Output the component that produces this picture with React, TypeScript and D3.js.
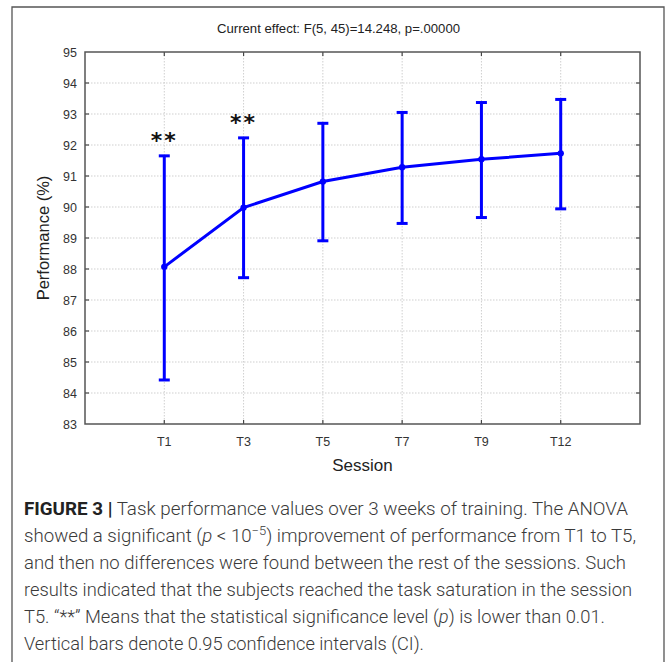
import React from "react";
import * as d3 from "d3";

const sessions = ["T1", "T3", "T5", "T7", "T9", "T12"];
const means = [88.07, 89.98, 90.82, 91.28, 91.54, 91.73];
const upper = [91.65, 92.23, 92.7, 93.05, 93.37, 93.47];
const lower = [84.42, 87.72, 88.91, 89.47, 89.66, 89.94];
const significant = [true, true, false, false, false, false];
const yTicks = [83, 84, 85, 86, 87, 88, 89, 90, 91, 92, 93, 94, 95];
const titleText = "Current effect: F(5, 45)=14.248, p=.00000";

const W = 667;
const H = 662;
const L = 85, R = 640, T = 52, B = 424;

export default function App() {
  const x = d3.scaleLinear().domain([0, sessions.length + 1]).range([L, R]);
  const y = d3.scaleLinear().domain([83, 95]).range([B, T]);
  const line = d3
    .line<number>()
    .x((_, i) => x(i + 1))
    .y((d) => y(d));
  const font = "'Liberation Sans', Arial, sans-serif";
  const capFont = "Roboto, 'Open Sans', sans-serif";
  const capColor = "#3a3a3a";
  const capX = 24;
  const capSize = 18;
  const capY0 = 515;
  const capDy = 27;
  return (
    <svg width={W} height={H} style={{ position: "absolute", left: 0, top: 0, background: "#fff" }}>
      <rect x={0} y={0} width={W} height={H} fill="#fff" />
      {/* outer border */}
      <path d={`M12,${H + 2} V7 H664 V${H + 2}`} fill="none" stroke="#555" strokeWidth={1.3} />
      {/* title */}
      <text x={(L + R) / 2 - 24} y={33} textAnchor="middle" fontFamily={font} fontSize={13} fill="#222"
        textLength={243} lengthAdjust="spacingAndGlyphs">
        {titleText}
      </text>
      {/* grid */}
      {yTicks.slice(1, -1).map((t) => (
        <line key={"gy" + t} x1={L} x2={R} y1={y(t)} y2={y(t)} stroke="#cfcfcf" strokeWidth={1} strokeDasharray="1.5,1.5" />
      ))}
      {sessions.map((s, i) => (
        <line key={"gx" + s} x1={x(i + 1)} x2={x(i + 1)} y1={T} y2={B} stroke="#cfcfcf" strokeWidth={1} strokeDasharray="1.5,1.5" />
      ))}
      {/* ticks inward */}
      {yTicks.slice(1, -1).map((t) => (
        <g key={"ty" + t}>
          <line x1={L} x2={L + 4} y1={y(t)} y2={y(t)} stroke="#444" strokeWidth={1.2} />
          <line x1={R} x2={R - 4} y1={y(t)} y2={y(t)} stroke="#444" strokeWidth={1.2} />
        </g>
      ))}
      {sessions.map((s, i) => (
        <g key={"tx" + s}>
          <line x1={x(i + 1)} x2={x(i + 1)} y1={B} y2={B - 4} stroke="#444" strokeWidth={1.2} />
          <line x1={x(i + 1)} x2={x(i + 1)} y1={T} y2={T + 4} stroke="#444" strokeWidth={1.2} />
        </g>
      ))}
      {/* frame */}
      <rect x={L} y={T} width={R - L} height={B - T} fill="none" stroke="#555" strokeWidth={1.5} />
      {/* y labels */}
      {yTicks.map((t) => (
        <text key={"yl" + t} x={L - 8} y={y(t) + 4.5} textAnchor="end" fontFamily={font} fontSize={12.5} fill="#333">
          {t}
        </text>
      ))}
      {/* x labels */}
      {sessions.map((s, i) => (
        <text key={"xl" + s} x={x(i + 1)} y={446} textAnchor="middle" fontFamily={font} fontSize={12.5} fill="#333">
          {s}
        </text>
      ))}
      {/* axis titles */}
      <text x={(L + R) / 2} y={471} textAnchor="middle" fontFamily={font} fontSize={17} fill="#222">
        Session
      </text>
      <text transform={`translate(49,${(T + B) / 2}) rotate(-90)`} textAnchor="middle" fontFamily={font} fontSize={16.5} fill="#222">
        Performance (%)
      </text>
      {/* error bars */}
      {sessions.map((s, i) => (
        <g key={"eb" + s} stroke="#0000ff" strokeWidth={3}>
          <line x1={x(i + 1)} x2={x(i + 1)} y1={y(upper[i])} y2={y(lower[i])} />
          <line x1={x(i + 1) - 5.5} x2={x(i + 1) + 5.5} y1={y(upper[i])} y2={y(upper[i])} />
          <line x1={x(i + 1) - 5.5} x2={x(i + 1) + 5.5} y1={y(lower[i])} y2={y(lower[i])} />
        </g>
      ))}
      <path d={line(means) || ""} fill="none" stroke="#0000ff" strokeWidth={3} />
      {means.map((m, i) => (
        <circle key={"pt" + i} cx={x(i + 1)} cy={y(m)} r={3.2} fill="#0000ff" />
      ))}
      {/* significance */}
      {sessions.map((s, i) =>
        significant[i] ? (
          <text key={"sg" + s} x={x(i + 1)} y={y(upper[i]) - 8} textAnchor="middle" fontFamily="'DejaVu Sans', sans-serif"
            fontWeight="bold" fontSize={22} fill="#111" letterSpacing={2}>
            **
          </text>
        ) : null
      )}
      {/* caption */}
      <g fontFamily={capFont} fontSize={capSize} fill={capColor} fontWeight={300}>
        <text x={capX} y={capY0} textLength={604} lengthAdjust="spacingAndGlyphs">
          <tspan fontWeight={700} fill="#222">FIGURE 3 |</tspan> Task performance values over 3 weeks of training. The ANOVA
        </text>
        <text x={capX} y={capY0 + capDy} textLength={612} lengthAdjust="spacingAndGlyphs">
          showed a significant (<tspan fontStyle="italic">p</tspan> &lt; 10<tspan dy={-7} fontSize={12.5}>−5</tspan><tspan dy={7}>) improvement of performance from T1 to T5,</tspan>
        </text>
        <text x={capX} y={capY0 + 2 * capDy} textLength={602} lengthAdjust="spacingAndGlyphs">
          and then no differences were found between the rest of the sessions. Such
        </text>
        <text x={capX} y={capY0 + 3 * capDy} textLength={608} lengthAdjust="spacingAndGlyphs">
          results indicated that the subjects reached the task saturation in the session
        </text>
        <text x={capX} y={capY0 + 4 * capDy} textLength={581} lengthAdjust="spacingAndGlyphs">
          T5. “**” Means that the statistical significance level (<tspan fontStyle="italic">p</tspan>) is lower than 0.01.
        </text>
        <text x={capX} y={capY0 + 5 * capDy} textLength={400} lengthAdjust="spacingAndGlyphs">
          Vertical bars denote 0.95 confidence intervals (CI).
        </text>
      </g>
    </svg>
  );
}
